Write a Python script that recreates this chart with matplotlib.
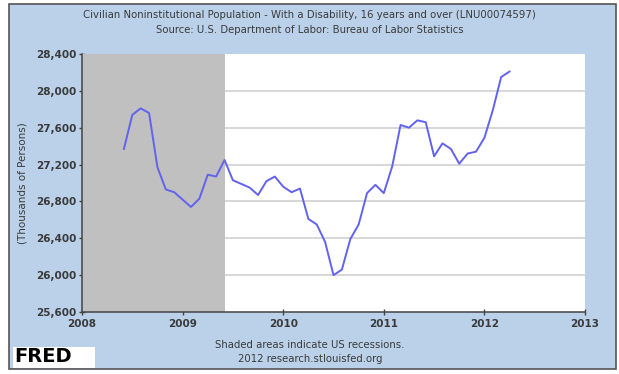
import numpy as np
import matplotlib
matplotlib.use("Agg")
import matplotlib.pyplot as plt
from matplotlib.patches import Rectangle

# monthly values, Jun 2008 .. Apr 2012 (thousands of persons)
start_year, start_month = 2008, 6
values = [27370, 27740, 27810, 27760, 27170, 26930, 26900, 26820, 26740, 26830,
          27090, 27070, 27250, 27030, 26990, 26950, 26870, 27020, 27070, 26960,
          26900, 26940, 26610, 26550, 26360, 26000, 26060, 26390, 26550, 26890,
          26980, 26890, 27180, 27630, 27600, 27680, 27660, 27290, 27430, 27370,
          27210, 27320, 27340, 27490, 27790, 28150, 28210]
recession = (2008.0, 2009.42)
yticks = [25600, 26000, 26400, 26800, 27200, 27600, 28000, 28400]
xticks = [2008, 2009, 2010, 2011, 2012, 2013]

dates = np.array([start_year + (start_month - 1 + i) / 12 for i in range(len(values))])

bg = "#bad1e9"
txt = "#3a3a3a"

fig = plt.figure(figsize=(6.19, 3.74), dpi=100)
fig.patch.set_facecolor("white")
# blue panel with dark border
fig.patches.append(Rectangle((9 / 619, 1 - 369 / 374), 607 / 619, 365 / 374,
                             transform=fig.transFigure, facecolor=bg,
                             edgecolor="#555555", linewidth=1.2, zorder=-5))

ax = fig.add_axes([82 / 619, 1 - 312 / 374, 503 / 619, 258 / 374])
ax.set_zorder(2)
ax.set_facecolor("white")
ax.plot(dates, values, color="#6262f0", linewidth=1.4, zorder=3)
ax.axvspan(recession[0], recession[1], color="#c0c0c0", zorder=2, linewidth=0)
for y in yticks[1:-1]:
    ax.axhline(y, color="#d4d4d4", linewidth=1.3, zorder=1)

ax.set_xlim(2008, 2013)
ax.set_ylim(25600, 28400)
ax.set_xticks(xticks)
ax.set_yticks(yticks)
ax.set_yticklabels([f"{v:,}" for v in yticks])
ax.tick_params(direction="inout", length=4, width=1, color="#444444",
               labelsize=7.5, labelcolor=txt, pad=2)
ax.tick_params(axis="x", pad=3)
for lab in ax.get_xticklabels() + ax.get_yticklabels():
    lab.set_fontweight("bold")
for s in ["top", "right"]:
    ax.spines[s].set_visible(False)
for s in ["left", "bottom"]:
    ax.spines[s].set_color("#444444")
    ax.spines[s].set_linewidth(1.1)
ax.set_ylabel("(Thousands of Persons)", fontsize=7.5, color=txt, labelpad=6)

fig.text(0.5, 1 - 15 / 374, "Civilian Noninstitutional Population - With a Disability, 16 years and over (LNU00074597)",
         ha="center", va="center", fontsize=7.3, color=txt)
fig.text(0.5, 1 - 30 / 374, "Source: U.S. Department of Labor: Bureau of Labor Statistics",
         ha="center", va="center", fontsize=7.3, color=txt)
fig.text(310 / 619, 1 - 345 / 374, "Shaded areas indicate US recessions.",
         ha="center", va="center", fontsize=7.3, color=txt)
fig.text(310 / 619, 1 - 359 / 374, "2012 research.stlouisfed.org",
         ha="center", va="center", fontsize=7.3, color=txt)

# FRED logo
fig.patches.append(Rectangle((13 / 619, 1 - 368 / 374), 82 / 619, 21 / 374,
                             transform=fig.transFigure, facecolor="white",
                             edgecolor="none", zorder=-4))
fig.text(14 / 619, 1 - 357 / 374, "FRED", ha="left", va="center",
         fontsize=14, fontweight="bold", color="black")

fig.savefig("out.png", dpi=100)
